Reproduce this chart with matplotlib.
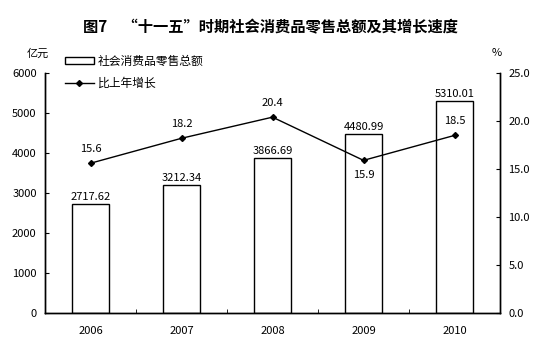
import matplotlib
matplotlib.use("Agg")
import matplotlib.pyplot as plt
import numpy as np

plt.rcParams['font.family'] = ['Noto Sans CJK SC', 'DejaVu Sans']

years = ["2006", "2007", "2008", "2009", "2010"]
sales = [2717.62, 3212.34, 3866.69, 4480.99, 5310.01]
growth = [15.6, 18.2, 20.4, 15.9, 18.5]
sales_labels = ["2717.62", "3212.34", "3866.69", "4480.99", "5310.01"]
growth_labels = ["15.6", "18.2", "20.4", "15.9", "18.5"]

fig = plt.figure(figsize=(5.41, 3.45), dpi=100)
ax = fig.add_axes([45/541, 1-313/345, 455/541, 240/345])
ax2 = ax.twinx()

fs = 8
x = np.arange(len(years))
bars = ax.bar(x, sales, width=0.4, color='white', edgecolor='black', linewidth=1.0,
              label='社会消费品零售总额', zorder=2)
ax.set_xlim(-0.5, len(years)-0.5)
ax.set_ylim(0, 6000)
ax.set_yticks(range(0, 6001, 1000))
ax.set_xticks(x)
ax.set_xticklabels(years)
ax.set_xticks(np.arange(-0.5, len(years), 1.0), minor=True)
ax.tick_params(axis='x', which='major', length=0, pad=9, labelsize=fs)
ax.tick_params(axis='x', which='minor', direction='in', length=3)
ax.tick_params(axis='y', direction='in', length=3, labelsize=fs, pad=6)

for xi, v, lab in zip(x, sales, sales_labels):
    ax.text(xi, v + 50, lab, ha='center', va='bottom', fontsize=fs, zorder=5)

line, = ax2.plot(x, growth, color='black', marker='D', markersize=3, linewidth=1.0,
                 label='比上年增长', zorder=3)
ax2.set_ylim(0, 25)
ax2.set_yticks(np.arange(0, 25.1, 5))
ax2.set_yticklabels([f"{v:.1f}" for v in np.arange(0, 25.1, 5)])
ax2.tick_params(axis='y', direction='in', length=3, labelsize=fs, pad=6)

for i, (xi, v, lab) in enumerate(zip(x, growth, growth_labels)):
    if i == 3:
        ax2.text(xi, v - 1.0, lab, ha='center', va='top', fontsize=fs)
    else:
        ax2.text(xi, v + 1.0, lab, ha='center', va='bottom', fontsize=fs)

for a in (ax, ax2):
    a.spines['top'].set_visible(False)
    for s in a.spines.values():
        s.set_linewidth(1.0)

fig.text(0.5, 1-27/345, '图7　“十一五”时期社会消费品零售总额及其增长速度', ha='center', va='center',
         fontsize=11, fontweight='bold')
fig.text(38/541, 1-54/345, '亿元', ha='center', va='center', fontsize=fs)
fig.text(497/541, 1-53/345, '%', ha='center', va='center', fontsize=fs)

leg = fig.legend(handles=[bars, line], loc='upper left', bbox_to_anchor=(60/541, 1-50/345),
                 frameon=False, fontsize=8.5, handlelength=2.5, handleheight=0.6,
                 labelspacing=0.75, borderaxespad=0, handletextpad=0.3)

fig.savefig('out.png', dpi=100)
